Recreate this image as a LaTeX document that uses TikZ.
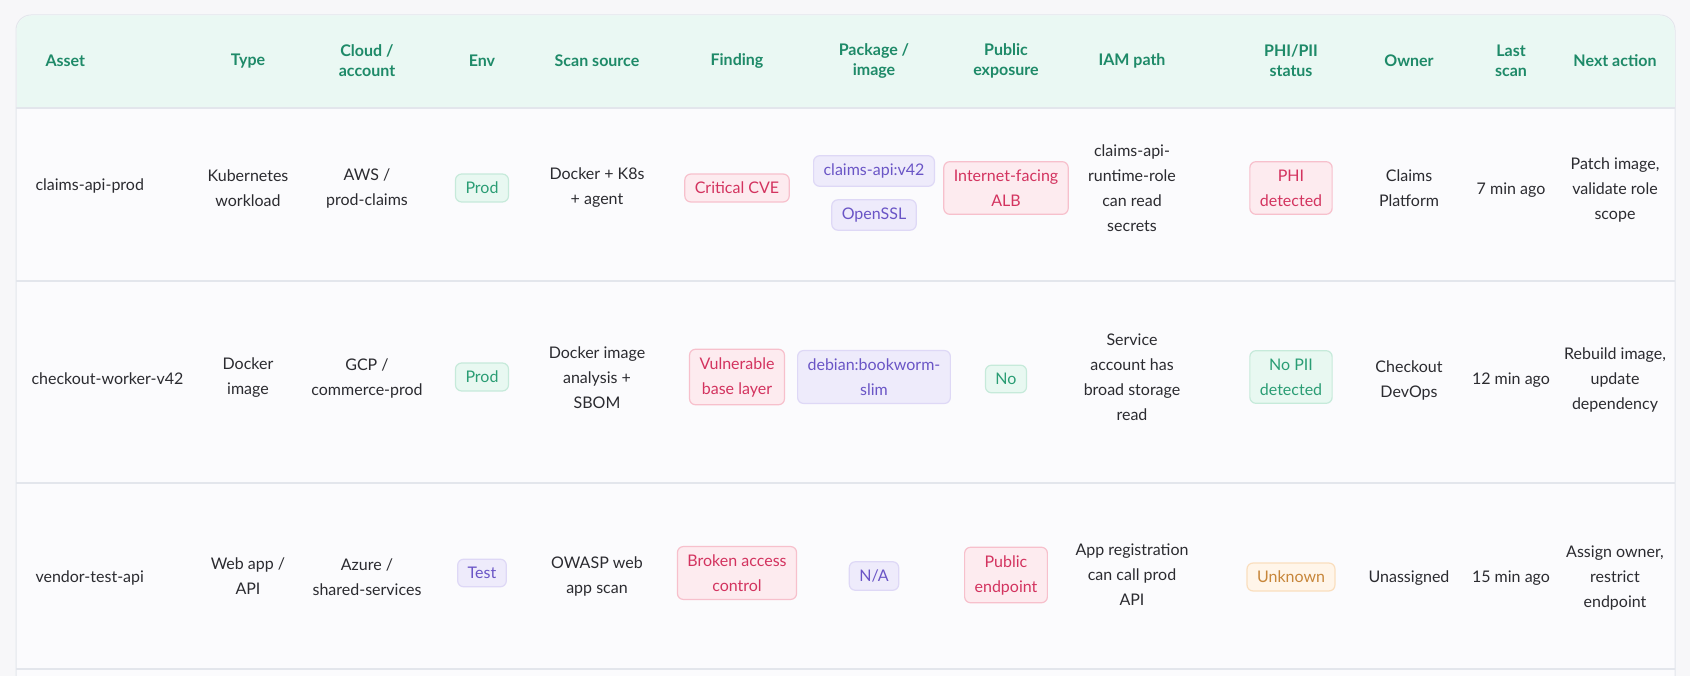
\documentclass[tikz,border=0pt]{standalone}
\usepackage{fontspec}
\setmainfont{Lato}
\definecolor{pageBg}{HTML}{F7F7F9}
\definecolor{cardBg}{HTML}{FBFBFD}
\definecolor{cardLine}{HTML}{E3E6EC}
\definecolor{headBg}{HTML}{EAF8F3}
\definecolor{headTxt}{HTML}{1E8A68}
\definecolor{bodyTxt}{HTML}{2B2B30}
\definecolor{grnFill}{HTML}{E8F8F1}
\definecolor{grnLine}{HTML}{C6EADA}
\definecolor{grnTxt}{HTML}{2A9D74}
\definecolor{redFill}{HTML}{FDEBEF}
\definecolor{redLine}{HTML}{F7C0CC}
\definecolor{redTxt}{HTML}{D3335F}
\definecolor{purFill}{HTML}{EEEBFB}
\definecolor{purLine}{HTML}{DED8F6}
\definecolor{purTxt}{HTML}{6A55C6}
\definecolor{orgFill}{HTML}{FFF5E9}
\definecolor{orgLine}{HTML}{FADEBE}
\definecolor{orgTxt}{HTML}{C7863A}
\tikzset{
  head/.style={font=\fontsize{16}{20}\selectfont\bfseries, text=headTxt, align=center},
  cell/.style={font=\fontsize{16}{25}\selectfont, text=bodyTxt, align=center},
  pill/.style={font=\fontsize{16}{25}\selectfont, align=center, rounded corners=6pt,
    line width=1.2pt, inner xsep=10pt, inner ysep=8pt},
  green/.style={pill, fill=grnFill, draw=grnLine, text=grnTxt},
  red/.style={pill, fill=redFill, draw=redLine, text=redTxt},
  purple/.style={pill, fill=purFill, draw=purLine, text=purTxt},
  orange/.style={pill, fill=orgFill, draw=orgLine, text=orgTxt},
  sep/.style={draw=cardLine, line width=2pt}
}
\begin{document}
\begin{tikzpicture}[x=1pt,y=-1pt]
  % page and card
  \useasboundingbox (0,0) rectangle (1690,676);
  \fill[pageBg] (0,0) rectangle (1690,676);
  \begin{scope}
    \clip (0,0) rectangle (1690,676);
    \fill[cardBg, draw=cardLine, line width=1pt, rounded corners=15pt] (16,15) rectangle (1675,720);
    \fill[headBg, rounded corners=15pt] (16.5,15.5) rectangle (1674.5,60);
    \fill[headBg] (16.5,40) rectangle (1674.5,108);
  \end{scope}

  % row separators
  \coordinate (l0) at (16,108);  \coordinate (r0) at (1675,108);
  \coordinate (l1) at (16,281);  \coordinate (r1) at (1675,281);
  \coordinate (l2) at (16,483);  \coordinate (r2) at (1675,483);
  \coordinate (l3) at (16,669);  \coordinate (r3) at (1675,669);
  \draw[sep] (l0) -- (r0);
  \draw[sep] (l1) -- (r1);
  \draw[sep] (l2) -- (r2);
  \draw[sep] (l3) -- (r3);

  % header
  \node[head, anchor=west] (hAsset) at (42,61) {Asset};
  \node[head] (hType) at (248,61) {Type};
  \node[head] (hCloud) at (367,61) {Cloud /\\account};
  \node[head] (hEnv) at (482,61) {Env};
  \node[head] (hScan) at (597,61) {Scan source};
  \node[head] (hFind) at (737,61) {Finding};
  \node[head] (hPkg) at (874,61) {Package /\\image};
  \node[head] (hPub) at (1006,61) {Public\\exposure};
  \node[head] (hIam) at (1132,61) {IAM path};
  \node[head] (hPhi) at (1291,61) {PHI/PII\\status};
  \node[head] (hOwner) at (1409,61) {Owner};
  \node[head] (hLast) at (1511,61) {Last\\scan};
  \node[head] (hNext) at (1615,61) {Next action};

  % row 1
  \node[cell, anchor=west] (a1) at (32,186) {claims-api-prod};
  \node[cell] (t1) at (248,188) {Kubernetes\\workload};
  \node[cell] (c1) at (367,188) {AWS /\\prod-claims};
  \node[green] (e1) at (482,188) {Prod};
  \node[cell] (s1) at (597,188) {Docker + K8s\\+ agent};
  \node[red] (f1) at (737,188) {Critical CVE};
  \node[purple] (p1) at (874,171) {claims-api:v42};
  \node[purple] (q1) at (874,215) {OpenSSL};
  \node[red] (x1) at (1006,188) {Internet-facing\\ALB};
  \node[cell] (i1) at (1132,188) {claims-api-\\runtime-role\\can read\\secrets};
  \node[red] (h1) at (1291,188) {PHI\\detected};
  \node[cell] (o1) at (1409,188) {Claims\\Platform};
  \node[cell] (l1n) at (1511,190) {7 min ago};
  \node[cell] (n1) at (1615,190) {Patch image,\\validate role\\scope};

  % row 2
  \node[cell, anchor=west] (a2) at (28,379) {checkout-worker-v42};
  \node[cell] (t2) at (248,378) {Docker\\image};
  \node[cell] (c2) at (367,378) {GCP /\\commerce-prod};
  \node[green] (e2) at (482,377) {Prod};
  \node[cell] (s2) at (597,378) {Docker image\\analysis +\\SBOM};
  \node[red] (f2) at (737,377) {Vulnerable\\base layer};
  \node[purple] (p2) at (874,377) {debian:bookworm-\\slim};
  \node[green] (x2) at (1006,379) {No};
  \node[cell] (i2) at (1132,377) {Service\\account has\\broad storage\\read};
  \node[green] (h2) at (1291,377) {No PII\\detected};
  \node[cell] (o2) at (1409,380) {Checkout\\DevOps};
  \node[cell] (l2n) at (1511,380) {12 min ago};
  \node[cell] (n2) at (1615,380) {Rebuild image,\\update\\dependency};

  % row 3
  \node[cell, anchor=west] (a3) at (32,578) {vendor-test-api};
  \node[cell] (t3) at (248,576) {Web app /\\API};
  \node[cell] (c3) at (367,577) {Azure /\\shared-services};
  \node[purple] (e3) at (482,573) {Test};
  \node[cell] (s3) at (597,576) {OWASP web\\app scan};
  \node[red] (f3) at (737,573) {Broken access\\control};
  \node[purple] (p3) at (874,576) {N/A};
  \node[red] (x3) at (1006,575) {Public\\endpoint};
  \node[cell] (i3) at (1132,575) {App registration\\can call prod\\API};
  \node[orange] (h3) at (1291,577) {Unknown};
  \node[cell] (o3) at (1409,578) {Unassigned};
  \node[cell] (l3n) at (1511,578) {15 min ago};
  \node[cell] (n3) at (1615,578) {Assign owner,\\restrict\\endpoint};
\end{tikzpicture}
\end{document}
